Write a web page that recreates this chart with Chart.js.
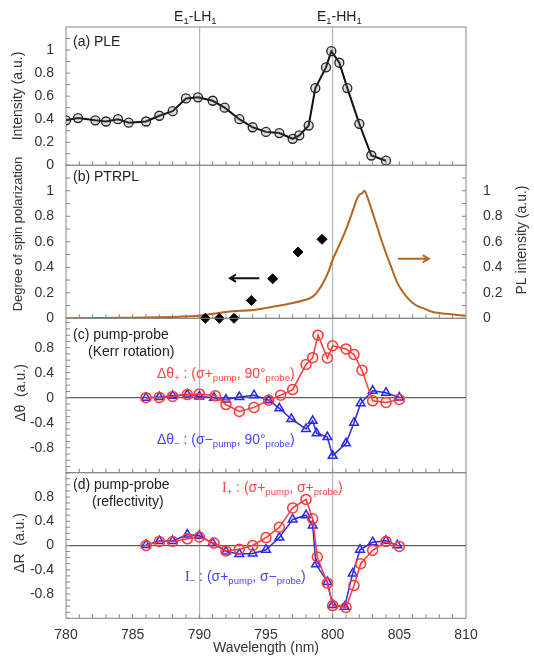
<!DOCTYPE html>
<html>
<head>
<meta charset="utf-8">
<script src="https://cdn.jsdelivr.net/npm/chart.js@4.4.0/dist/chart.umd.min.js"></script>
<style>
  html, body { margin: 0; padding: 0; background: #fff; }
  #wrap { position: relative; width: 534px; height: 657px; }
  canvas { position: absolute; left: 0; top: 0; }
</style>
</head>
<body>
<div id="wrap">
  <canvas id="cA" width="534" height="657"></canvas>
  <canvas id="cB" width="534" height="657"></canvas>
  <canvas id="cC" width="534" height="657"></canvas>
  <canvas id="cD" width="534" height="657"></canvas>
</div>
<script>
// (a) PLE
const pleWl = [780, 780.9, 782.2, 783, 783.9, 784.7, 786, 787, 788, 789, 789.9, 791, 791.9, 793, 794, 795, 796, 797, 797.5, 798.2, 798.7, 799.5, 799.9, 800.5, 801.1, 802, 802.9, 804];
const pleVal = [0.39, 0.41, 0.39, 0.38, 0.40, 0.37, 0.38, 0.43, 0.47, 0.58, 0.59, 0.56, 0.50, 0.40, 0.33, 0.29, 0.28, 0.23, 0.26, 0.345, 0.67, 0.85, 0.99, 0.89, 0.67, 0.36, 0.085, 0.04];

// (b) PTRPL: spin polarization (left) and PL intensity (right)
const spinWl = [790.45, 791.5, 792.6, 793.9, 795.5, 797.4, 799.2];
const spinVal = [0, 0, 0, 0.14, 0.31, 0.52, 0.62];
const plWl = [780, 782, 784, 786, 788, 789, 790, 791.3, 792.5, 794, 795.5, 797, 798, 798.5, 798.8, 799.3, 799.7, 800, 800.3, 800.9, 801.4, 801.8, 802, 802.2, 802.4, 802.8, 803.3, 803.7, 804, 804.4, 804.8, 805.3, 805.8, 806.3, 807, 807.5, 808.5, 810];
const plVal = [0, 0.002, 0.004, 0.006, 0.01, 0.015, 0.02, 0.04, 0.055, 0.065, 0.09, 0.12, 0.145, 0.17, 0.2, 0.28, 0.37, 0.46, 0.53, 0.67, 0.81, 0.93, 0.97, 0.98, 1.0, 0.89, 0.73, 0.6, 0.51, 0.4, 0.29, 0.2, 0.14, 0.1, 0.07, 0.05, 0.035, 0.02];

// (c) Kerr rotation
const kerrPlusWl = [786, 787, 788, 789.1, 790, 791.2, 792, 793, 794.1, 795.2, 796.1, 797, 798, 798.5, 798.9, 799.6, 800, 801, 801.6, 802.2, 803, 804, 805];
const kerrPlus = [0, 0.005, 0.02, 0.05, 0.06, 0.03, -0.11, -0.22, -0.155, -0.04, 0.04, 0.13, 0.53, 0.64, 1.0, 0.635, 0.83, 0.78, 0.69, 0.44, -0.05, -0.075, -0.027];
const kerrMinusWl = [786, 787, 788, 789.1, 790, 791.1, 792, 793, 794.1, 795.2, 796, 796.9, 798, 798.5, 798.8, 799.6, 800, 801, 801.6, 802.1, 803, 804, 805];
const kerrMinus = [0, 0.01, 0.03, 0.05, 0.02, 0, -0.03, 0.01, 0.04, -0.04, -0.17, -0.34, -0.5, -0.37, -0.57, -0.63, -0.93, -0.73, -0.4, -0.09, 0.11, 0.08, 0.005];

// (d) reflectivity
const reflPlusWl = [786, 787, 788, 789.1, 790, 791.1, 792, 793, 794, 795, 796, 797, 798, 798.5, 798.85, 799.6, 800, 801, 801.6, 802.1, 803, 804, 805];
const reflPlus = [0, 0.065, 0.065, 0.11, 0.14, 0.04, -0.09, -0.06, 0, 0.13, 0.30, 0.62, 0.76, 0.44, -0.19, -0.62, -0.99, -1.02, -0.66, -0.30, -0.08, 0.065, -0.015];
const reflMinusWl = [786, 787, 788, 789.1, 790, 791, 792, 793, 794, 795, 796, 797, 798, 798.5, 798.75, 799.6, 800, 800.9, 801.5, 802.05, 803, 804, 804.85];
const reflMinus = [0.01, 0.075, 0.075, 0.18, 0.16, 0.04, -0.1, -0.14, -0.13, -0.07, 0.13, 0.43, 0.50, 0.33, -0.31, -0.60, -0.98, -1.01, -0.46, -0.07, 0.055, 0.08, 0.005];

const W = 534, H = 657;
const FONT = "'Liberation Sans', Arial, sans-serif";
const SERIF = "'Liberation Serif', 'Times New Roman', serif";
Chart.defaults.font.family = FONT;
Chart.defaults.animation = false;

function pts(xs, ys) {
  return xs.map((x, i) => ({ x: x, y: ys[i] }));
}

function fmt(v) {
  return String(Math.round(v * 10) / 10);
}

function xScale(showLabels, height) {
  return {
    type: 'linear', min: 780, max: 810,
    ticks: {
      display: showLabels, stepSize: 1, autoSkip: false, maxRotation: 0, padding: 8,
      color: '#333', font: { size: 14 },
      callback: v => (v % 5 === 0 ? String(v) : '')
    },
    grid: {
      drawTicks: false, lineWidth: 1.2,
      color: ctx => (ctx.tick && (ctx.tick.value === 790 || ctx.tick.value === 800)) ? '#b4b4b4' : 'rgba(0,0,0,0)'
    },
    border: { display: false },
    title: {
      display: showLabels, text: 'Wavelength (nm)', color: '#333',
      font: { size: 14 }, padding: { top: 0, bottom: 0 }
    },
    afterFit: s => { s.height = height; }
  };
}

function yScale(min, max, step, labelMax, pos, zeroLine) {
  return {
    type: 'linear', position: pos, min: min, max: max,
    ticks: {
      stepSize: step, padding: pos === 'left' ? 12 : 17, color: '#333', font: { size: 14 },
      callback: v => (Math.abs(v) <= labelMax + 1e-6 ? fmt(v) : '')
    },
    grid: {
      display: zeroLine, drawTicks: false, lineWidth: 1.2,
      color: ctx => (ctx.tick && Math.abs(ctx.tick.value) < 1e-6) ? '#606060' : 'rgba(0,0,0,0)'
    },
    border: { display: false },
    afterFit: s => { s.width = pos === 'left' ? 66 : 68; }
  };
}

function drawFrame(chart, rightScale) {
  const { ctx, chartArea: a, scales } = chart;
  ctx.save();
  ctx.strokeStyle = '#858585';
  ctx.lineWidth = 1;
  ctx.strokeRect(a.left, a.top, a.right - a.left, a.bottom - a.top);
  ctx.beginPath();
  for (let v = 781; v < 810; v++) {
    const x = scales.x.getPixelForValue(v);
    ctx.moveTo(x, a.bottom);
    ctx.lineTo(x, a.bottom - 4);
  }
  const ys = scales.y;
  for (let k = Math.ceil(ys.min * 10 - 1e-6); k / 10 < ys.max - 1e-6; k++) {
    const y = ys.getPixelForValue(k / 10);
    ctx.moveTo(a.left, y);
    ctx.lineTo(a.left + 4, y);
    if (rightScale) {
      ctx.moveTo(a.right, y);
      ctx.lineTo(a.right - 4, y);
    }
  }
  ctx.stroke();
  ctx.restore();
}

// draw text made of parts: [text, 'sub' or '', font family]
function richWidth(ctx, parts, size) {
  let w = 0;
  parts.forEach(p => {
    ctx.font = (p[1] ? size * 0.68 : size) + 'px ' + (p[2] || FONT);
    w += ctx.measureText(p[0]).width;
  });
  return w;
}
function rich(ctx, parts, x, y, color, size) {
  ctx.save();
  ctx.fillStyle = color;
  ctx.textBaseline = 'middle';
  ctx.textAlign = 'left';
  let cx = x;
  parts.forEach(p => {
    ctx.font = (p[1] ? size * 0.68 : size) + 'px ' + (p[2] || FONT);
    ctx.fillText(p[0], cx, y + (p[1] ? size * 0.3 : 0));
    cx += ctx.measureText(p[0]).width;
  });
  ctx.restore();
}

function text(ctx, s, x, y, size, color, rot) {
  ctx.save();
  ctx.fillStyle = color || '#222';
  ctx.font = size + 'px ' + FONT;
  ctx.textBaseline = 'middle';
  if (rot) {
    ctx.translate(x, y);
    ctx.rotate(-Math.PI / 2);
    ctx.textAlign = 'center';
    ctx.fillText(s, 0, 0);
  } else {
    ctx.textAlign = 'left';
    ctx.fillText(s, x, y);
  }
  ctx.restore();
}

function arrow(ctx, x1, y1, x2, y2, color) {
  const ang = Math.atan2(y2 - y1, x2 - x1);
  ctx.save();
  ctx.strokeStyle = color;
  ctx.lineWidth = 2;
  ctx.beginPath();
  ctx.moveTo(x1, y1);
  ctx.lineTo(x2, y2);
  ctx.moveTo(x2 - 7 * Math.cos(ang - 0.55), y2 - 7 * Math.sin(ang - 0.55));
  ctx.lineTo(x2, y2);
  ctx.lineTo(x2 - 7 * Math.cos(ang + 0.55), y2 - 7 * Math.sin(ang + 0.55));
  ctx.stroke();
  ctx.restore();
}

function layout(top, bottom, right) {
  return { padding: { top: top, bottom: bottom, left: 0, right: right } };
}

const common = {
  responsive: false,
  events: [],
  plugins: { legend: { display: false }, tooltip: { enabled: false } }
};

// panel (a)
new Chart(document.getElementById('cA'), {
  type: 'line',
  data: {
    datasets: [{
      data: pts(pleWl, pleVal),
      borderColor: '#111', borderWidth: 2,
      pointStyle: 'circle', pointRadius: 4.5,
      pointBorderColor: '#222', pointBorderWidth: 1.3,
      pointBackgroundColor: 'rgba(120,120,120,0.25)'
    }]
  },
  options: Object.assign({}, common, {
    layout: layout(27, H - 165.3, 68),
    scales: { x: xScale(false, 0), y: yScale(0, 1.2, 0.2, 1, 'left', false) }
  }),
  plugins: [{
    id: 'decoA',
    beforeDatasetsDraw(chart) { drawFrame(chart, false); },
    afterDraw(chart) {
      const ctx = chart.ctx, x = chart.scales.x;
      text(ctx, '(a) PLE', 73, 42, 14);
      const lh = [['E'], ['1', 'sub'], ['-LH'], ['1', 'sub']];
      const hh = [['E'], ['1', 'sub'], ['-HH'], ['1', 'sub']];
      rich(ctx, lh, x.getPixelForValue(789.7) - richWidth(ctx, lh, 14) / 2, 17, '#222', 14);
      rich(ctx, hh, x.getPixelForValue(800.5) - richWidth(ctx, hh, 14) / 2, 17, '#222', 14);
      text(ctx, 'Intensity (a.u.)', 18, 96, 14, '#333', true);
    }
  }]
});

// panel (b)
new Chart(document.getElementById('cB'), {
  type: 'line',
  data: {
    datasets: [{
      data: pts(spinWl, spinVal), yAxisID: 'y', showLine: false, clip: 8,
      pointStyle: 'rectRot', pointRadius: 5,
      pointBackgroundColor: '#000', pointBorderColor: '#000'
    }, {
      data: pts(plWl, plVal), yAxisID: 'y2',
      borderColor: '#b5651d', borderWidth: 2, pointRadius: 0, tension: 0.3
    }]
  },
  options: Object.assign({}, common, {
    layout: layout(165.3, H - 318.3, 0),
    scales: {
      x: xScale(false, 0),
      y: yScale(0, 1.2, 0.2, 1, 'left', false),
      y2: yScale(0, 1.2, 0.2, 1, 'right', false)
    }
  }),
  plugins: [{
    id: 'decoB',
    beforeDatasetsDraw(chart) { drawFrame(chart, true); },
    afterDraw(chart) {
      const ctx = chart.ctx, x = chart.scales.x, y = chart.scales.y;
      text(ctx, '(b) PTRPL', 73, 177, 14);
      arrow(ctx, x.getPixelForValue(794.5), y.getPixelForValue(0.315), x.getPixelForValue(792.3), y.getPixelForValue(0.315), '#111');
      arrow(ctx, x.getPixelForValue(804.9), y.getPixelForValue(0.467), x.getPixelForValue(807.2), y.getPixelForValue(0.467), '#b5651d');
      text(ctx, 'Degree of spin polarization', 18, 234, 13, '#333', true);
      text(ctx, 'PL intensity (a.u.)', 522, 240, 14, '#333', true);
    }
  }]
});

// panel (c)
new Chart(document.getElementById('cC'), {
  type: 'line',
  data: {
    datasets: [{
      data: pts(kerrPlusWl, kerrPlus),
      borderColor: '#ff3b3b', borderWidth: 1.5,
      pointStyle: 'circle', pointRadius: 5, pointBorderWidth: 1.5,
      pointBorderColor: '#ff3b3b', pointBackgroundColor: 'rgba(255,0,0,0.06)'
    }, {
      data: pts(kerrMinusWl, kerrMinus),
      borderColor: '#2a2ae8', borderWidth: 1.5,
      pointStyle: 'triangle', pointRadius: 5, pointBorderWidth: 1.5,
      pointBorderColor: '#2a2ae8', pointBackgroundColor: 'rgba(0,0,255,0.06)'
    }]
  },
  options: Object.assign({}, common, {
    layout: layout(318.3, H - 472.7, 68),
    scales: { x: xScale(false, 0), y: yScale(-1.2, 1.27, 0.4, 0.8, 'left', true) }
  }),
  plugins: [{
    id: 'decoC',
    beforeDatasetsDraw(chart) { drawFrame(chart, false); },
    afterDraw(chart) {
      const ctx = chart.ctx;
      text(ctx, '(c) pump-probe', 73, 335, 14);
      text(ctx, '(Kerr rotation)', 88, 352, 14);
      rich(ctx, [['Δθ'], ['+', 'sub'], [' : (σ+'], ['pump', 'sub'], [', 90°'], ['probe', 'sub'], [')']], 157, 374, '#ff4444', 14);
      rich(ctx, [['Δθ'], ['−', 'sub'], [' : (σ−'], ['pump', 'sub'], [', 90°'], ['probe', 'sub'], [')']], 157, 440, '#4444ff', 14);
      text(ctx, 'Δθ  (a.u.)', 21, 393, 14, '#333', true);
    }
  }]
});

// panel (d)
new Chart(document.getElementById('cD'), {
  type: 'line',
  data: {
    datasets: [{
      data: pts(reflPlusWl, reflPlus),
      borderColor: '#ff3b3b', borderWidth: 1.5,
      pointStyle: 'circle', pointRadius: 5, pointBorderWidth: 1.5,
      pointBorderColor: '#ff3b3b', pointBackgroundColor: 'rgba(255,0,0,0.06)'
    }, {
      data: pts(reflMinusWl, reflMinus),
      borderColor: '#2a2ae8', borderWidth: 1.5,
      pointStyle: 'triangle', pointRadius: 5, pointBorderWidth: 1.5,
      pointBorderColor: '#2a2ae8', pointBackgroundColor: 'rgba(0,0,255,0.06)'
    }]
  },
  options: Object.assign({}, common, {
    layout: layout(472.7, 0, 68),
    scales: { x: xScale(true, H - 618.3), y: yScale(-1.2, 1.2, 0.4, 0.8, 'left', true) }
  }),
  plugins: [{
    id: 'decoD',
    beforeDatasetsDraw(chart) { drawFrame(chart, false); },
    afterDraw(chart) {
      const ctx = chart.ctx;
      text(ctx, '(d) pump-probe', 73, 485, 14);
      text(ctx, '(reflectivity)', 92, 502, 14);
      rich(ctx, [['I', '', SERIF], ['+', 'sub'], [' : (σ+'], ['pump', 'sub'], [', σ+'], ['probe', 'sub'], [')']], 222, 488, '#ff4444', 14);
      rich(ctx, [['I', '', SERIF], ['−', 'sub'], [' : (σ+'], ['pump', 'sub'], [', σ−'], ['probe', 'sub'], [')']], 185, 577, '#4444ff', 14);
      text(ctx, 'ΔR  (a.u.)', 20, 543, 14, '#333', true);
    }
  }]
});
</script>
</body>
</html>
